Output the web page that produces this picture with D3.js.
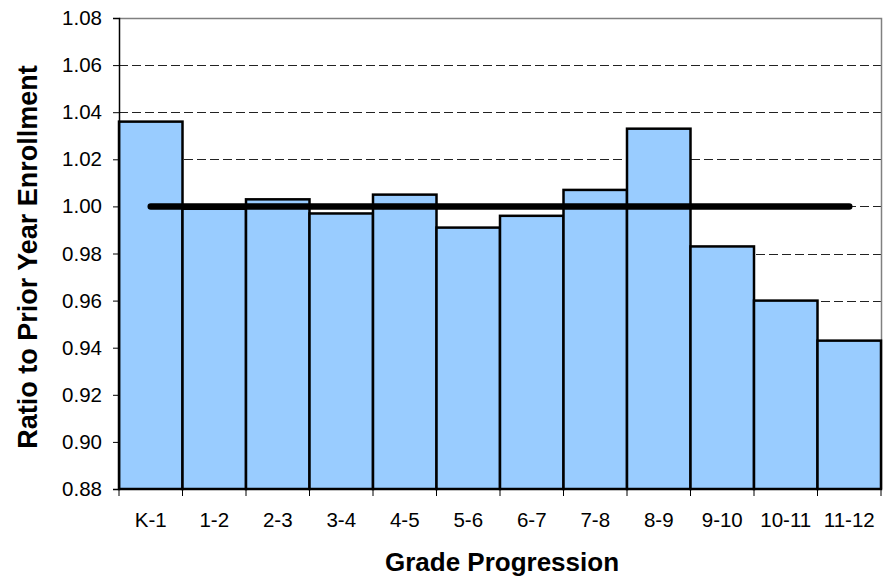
<!DOCTYPE html>
<html>
<head>
<meta charset="utf-8">
<script src="https://cdn.jsdelivr.net/npm/d3@7/dist/d3.min.js"></script>
<style>
  html, body { margin: 0; padding: 0; background: #fff; }
  svg { display: block; font-family: "Liberation Sans", Arial, sans-serif; }
</style>
</head>
<body>
<svg id="chart" width="883" height="578"></svg>
<script>
// Grade-to-grade enrollment ratios
const grades = ["K-1", "1-2", "2-3", "3-4", "4-5", "5-6", "6-7", "7-8", "8-9", "9-10", "10-11", "11-12"];
const ratios = [1.036, 0.999, 1.003, 0.997, 1.005, 0.991, 0.996, 1.007, 1.033, 0.983, 0.960, 0.943];
const parityLevel = [1.00];
const yTicks = [0.88, 0.90, 0.92, 0.94, 0.96, 0.98, 1.00, 1.02, 1.04, 1.06, 1.08];

const svg = d3.select("#chart");
const plotLeft = 119, plotRight = 881, plotTop = 18, plotBottom = 489;

const x = d3.scaleBand().domain(grades).range([plotLeft, plotRight]).padding(0);
const y = d3.scaleLinear().domain([0.88, 1.08]).range([plotBottom, plotTop]);

// dashed horizontal gridlines (below the bars)
svg.append("g")
  .selectAll("line")
  .data(yTicks.filter(t => t > 0.88 && t < 1.08))
  .join("line")
  .attr("x1", plotLeft).attr("x2", plotRight)
  .attr("y1", d => Math.round(y(d)) + 0.5).attr("y2", d => Math.round(y(d)) + 0.5)
  .attr("stroke", "#222")
  .attr("stroke-width", 1)
  .attr("stroke-dasharray", "9,4");

// plot frame: grey top and right edges
svg.append("path")
  .attr("d", `M${plotLeft},${plotTop + 0.5}H${plotRight + 0.5}V${plotBottom}`)
  .attr("fill", "none")
  .attr("stroke", "#808080")
  .attr("stroke-width", 1.5);

// bars, drawn from the axis floor up to each ratio
svg.append("g")
  .selectAll("rect")
  .data(grades.map((g, i) => ({ g, v: ratios[i] })))
  .join("rect")
  .attr("x", d => x(d.g))
  .attr("width", x.bandwidth())
  .attr("y", d => y(d.v))
  .attr("height", d => y(0.88) - y(d.v))
  .attr("fill", "#99CCFF")
  .attr("stroke", "#000")
  .attr("stroke-width", 2.5);

// y axis
const yAxis = d3.axisLeft(y)
  .tickValues(yTicks)
  .tickFormat(d3.format(".2f"))
  .tickSize(6)
  .tickPadding(11);
const gy = svg.append("g").attr("transform", `translate(${plotLeft},0)`).call(yAxis);
gy.select(".domain").attr("stroke", "#000").attr("stroke-width", 1.5);
gy.selectAll(".tick line").attr("stroke", "#000");
gy.selectAll(".tick text").attr("font-size", 20.5).attr("fill", "#000")
  .attr("font-family", "'Liberation Sans', Arial, sans-serif");

// x axis: labels centred on each band
const xAxis = d3.axisBottom(x).tickSize(0).tickPadding(23);
const gx = svg.append("g").attr("transform", `translate(0,${plotBottom})`).call(xAxis);
gx.select(".domain").remove();
gx.selectAll(".tick text").attr("font-size", 20.5).attr("fill", "#000")
  .attr("font-family", "'Liberation Sans', Arial, sans-serif");

// x axis baseline and tick marks at the band boundaries
svg.append("line")
  .attr("x1", plotLeft).attr("x2", plotRight)
  .attr("y1", plotBottom).attr("y2", plotBottom)
  .attr("stroke", "#000").attr("stroke-width", 1.5);
const edges = grades.map(g => x(g)).concat([x(grades[grades.length - 1]) + x.bandwidth()]);
svg.append("g")
  .selectAll("line")
  .data(edges)
  .join("line")
  .attr("x1", d => d).attr("x2", d => d)
  .attr("y1", plotBottom).attr("y2", plotBottom + 7)
  .attr("stroke", "#000").attr("stroke-width", 1);

// parity reference line at 1.00, spanning first to last band centre
svg.append("g")
  .selectAll("line")
  .data(parityLevel)
  .join("line")
  .attr("x1", x(grades[0]) + x.bandwidth() / 2)
  .attr("x2", x(grades[grades.length - 1]) + x.bandwidth() / 2)
  .attr("y1", d => y(d)).attr("y2", d => y(d))
  .attr("stroke", "#000")
  .attr("stroke-width", 6.5)
  .attr("stroke-linecap", "round");

// axis titles
svg.append("text")
  .attr("x", (plotLeft + plotRight) / 2 + 2)
  .attr("y", 571)
  .attr("text-anchor", "middle")
  .attr("font-size", 26)
  .attr("font-weight", "bold")
  .text("Grade Progression");

svg.append("text")
  .attr("transform", "translate(37,257) rotate(-90)")
  .attr("text-anchor", "middle")
  .attr("font-size", 27)
  .attr("font-weight", "bold")
  .text("Ratio to Prior Year Enrollment");
</script>
</body>
</html>
